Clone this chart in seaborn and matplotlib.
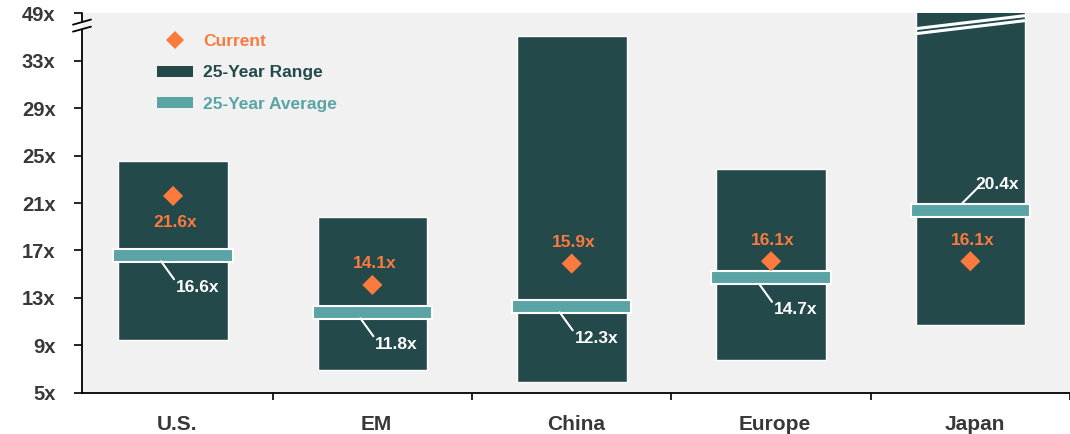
import matplotlib
matplotlib.use("Agg")
import matplotlib.pyplot as plt
import matplotlib.transforms as mtransforms
from matplotlib.lines import Line2D
from matplotlib.patches import Patch
import seaborn as sns
import pandas as pd

# Forward P/E: 25-year range, 25-year average and current value by region
regions = ["U.S.", "EM", "China", "Europe", "Japan"]
range_low = [9.5, 6.9, 5.9, 7.8, 10.7]
range_high = [24.5, 19.8, 35.1, 23.9, 60.0]
average = [16.6, 11.8, 12.3, 14.7, 20.4]
current = [21.6, 14.1, 15.9, 16.1, 16.1]

# y-axis positions and labels (the top tick sits above the axis break)
ytick_values = [5, 9, 13, 17, 21, 25, 29, 33, 37]
ytick_labels = ["5x", "9x", "13x", "17x", "21x", "25x", "29x", "33x", "49x"]

RANGE_C = "#23494b"
AVG_C = "#5ba4a6"
CUR_C = "#fb7b3e"
TEXT_C = "#383838"
BG_C = "#f1f1f1"

sns.set_theme(style="white")
plt.rcParams["font.family"] = ["Liberation Sans", "DejaVu Sans"]

df = pd.DataFrame({
    "region": regions,
    "pos": range(len(regions)),
    "low": range_low,
    "high": range_high,
    "avg": average,
    "cur": current,
})
df["span"] = df["high"] - df["low"]
AVG_THICK = 1.1
df["avg_bottom"] = df["avg"] - AVG_THICK / 2
df["avg_span"] = AVG_THICK

fig, ax = plt.subplots(figsize=(10.7, 4.34), dpi=100)
fig.subplots_adjust(left=0.0766, right=1.0, bottom=0.0945, top=0.970)
ax.set_facecolor(BG_C)

# 25-year range bars
sns.barplot(data=df, x="pos", y="span", bottom=df["low"].to_numpy(),
            width=0.55, color=RANGE_C, saturation=1, edgecolor="white",
            linewidth=1.0, native_scale=True, ax=ax, zorder=2)
# 25-year average bands
sns.barplot(data=df, x="pos", y="avg_span", bottom=df["avg_bottom"].to_numpy(),
            width=0.6, color=AVG_C, saturation=1, edgecolor="white",
            linewidth=1.5, native_scale=True, ax=ax, zorder=3)
# current value markers
sns.scatterplot(data=df, x="pos", y="cur", marker="D", s=105, color=CUR_C,
                edgecolor="none", legend=False, ax=ax, zorder=5)

ax.set_xlim(-0.457, 4.5)
ax.set_ylim(5, 37)
ax.set_xlabel("")
ax.set_ylabel("")

# axis break on the Japan bar
jx = df["pos"].iloc[4]
for y0, y1 in [(35.68, 36.78), (35.26, 36.36)]:
    ax.plot([jx - 0.275, jx + 0.275], [y0, y1], color="white", lw=2.2,
            solid_capstyle="butt", zorder=4)

# ticks
ax.set_yticks(ytick_values)
ax.set_yticklabels(ytick_labels, fontweight="bold")
ax.set_xticks(df["pos"])
ax.set_xticklabels(regions, fontweight="bold")
ax.set_xticks([0.5, 1.5, 2.5, 3.5, 4.5], minor=True)
ax.tick_params(axis="y", which="major", length=6, width=1.2, color="black",
               direction="out", left=True, pad=13, labelsize=14.5, labelcolor=TEXT_C)
ax.tick_params(axis="x", which="major", length=0, pad=16, labelsize=15,
               labelcolor=TEXT_C)
ax.tick_params(axis="x", which="minor", length=5, width=1.2, color="black",
               direction="out", bottom=True)
shift = mtransforms.ScaledTranslation(4 / 100, 0, fig.dpi_scale_trans)
for lbl in ax.get_xticklabels():
    lbl.set_transform(lbl.get_transform() + shift)

for s in ["top", "right"]:
    ax.spines[s].set_visible(False)
for s in ["left", "bottom"]:
    ax.spines[s].set_color("black")
    ax.spines[s].set_linewidth(1.3)
ax.spines["left"].set_bounds(5, 35.6)

# upper piece of the broken y-axis and the break marks
blend = mtransforms.blended_transform_factory(ax.transAxes, ax.transData)
ax.plot([0, 0], [36.35, 37], color="black", lw=1.3, transform=blend,
        clip_on=False, zorder=6)
for y0, y1 in [(35.43, 35.85), (36.02, 36.45)]:
    ax.plot([-0.0091, 0.0091], [y0, y1], color="black", lw=1.3,
            transform=blend, clip_on=False, zorder=6)

# value labels
for _, r in df.iterrows():
    dy = -27 if r["region"] == "U.S." else 21
    ax.annotate(f"{r['cur']:.1f}x", xy=(r["pos"], r["cur"]),
                xytext=(2, dy), textcoords="offset pixels",
                ha="center", va="center", fontsize=12.5, fontweight="bold",
                color=CUR_C, zorder=6)
    if r["region"] == "Japan":
        p0, p1, lab = (-8, 7), (7, 22), (5, 26)
    else:
        p0, p1, lab = (-12, -6), (1, -24), (3, -32)
    t0 = mtransforms.offset_copy(ax.transData, fig=fig, x=p0[0], y=p0[1], units="dots")
    t1 = mtransforms.offset_copy(ax.transData, fig=fig, x=p1[0], y=p1[1], units="dots")
    ax.annotate("", xy=(r["pos"], r["avg"]), xycoords=t1,
                xytext=(r["pos"], r["avg"]), textcoords=t0,
                arrowprops=dict(arrowstyle="-", color="white", lw=1.5,
                                shrinkA=0, shrinkB=0), zorder=6)
    ax.annotate(f"{r['avg']:.1f}x", xy=(r["pos"], r["avg"]),
                xytext=lab, textcoords="offset pixels",
                ha="left", va="center", fontsize=12.5, fontweight="bold",
                color="white", zorder=6)

# legend
handles = [
    Line2D([], [], marker="D", linestyle="none", color=CUR_C, markersize=9.5,
           markeredgewidth=0),
    Patch(facecolor=RANGE_C, edgecolor="none"),
    Patch(facecolor=AVG_C, edgecolor="none"),
]
leg = ax.legend(handles, ["Current", "25-Year Range", "25-Year Average"],
                loc="upper left", bbox_to_anchor=(157 / 1070, (434 - 34) / 434),
                bbox_transform=fig.transFigure, frameon=False,
                prop={"size": 12.5, "weight": "bold"},
                handlelength=2.1, handleheight=0.6, handletextpad=0.55,
                labelspacing=0.95, borderpad=0, borderaxespad=0,
                labelcolor=[CUR_C, RANGE_C, AVG_C])

fig.savefig("out.png", dpi=100)
